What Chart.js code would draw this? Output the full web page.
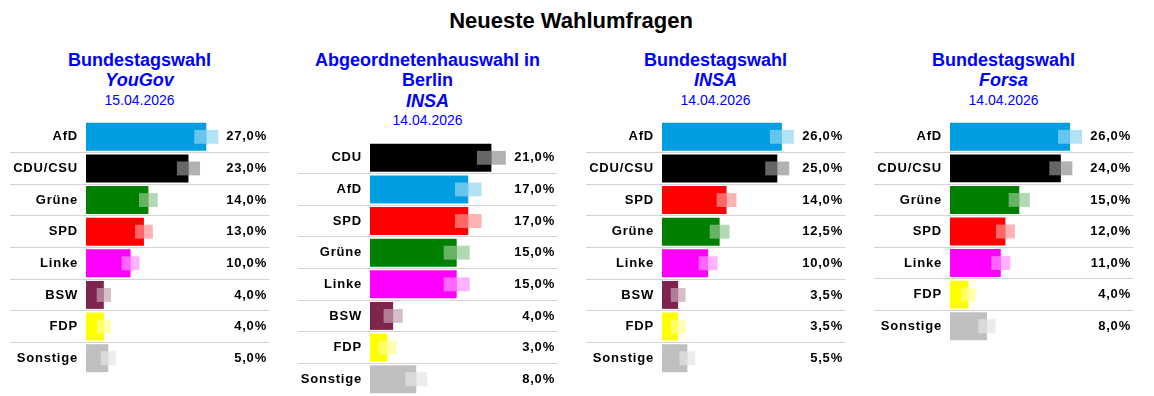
<!DOCTYPE html>
<html lang="de">
<head>
<meta charset="UTF-8">
<title>Neueste Wahlumfragen</title>
<script src="https://cdn.jsdelivr.net/npm/chart.js"></script>
<style>
  body { margin: 0; width: 1154px; height: 396px; position: relative; background: #fff; overflow: hidden;
         font-family: "Liberation Sans", Arial, sans-serif; }
  #titel { position: absolute; left: 0; top: 8px; width: 1142px; text-align: center;
           font-size: 22px; font-weight: bold; line-height: 26px; color: #000; }
  .kopf { position: absolute; top: 49.5px; width: 259px; text-align: center; color: #0000ff; }
  .kopf .wahl, .kopf .inst { font-size: 18px; font-weight: bold; line-height: 20.5px; }
  .kopf .inst { font-style: italic; }
  .kopf .datum { font-size: 14px; line-height: 19px; }
  canvas { position: absolute; }
</style>
</head>
<body>
<div id="titel">Neueste Wahlumfragen</div>

<div class="kopf" style="left:10px">
  <div class="wahl">Bundestagswahl</div>
  <div class="inst">YouGov</div>
  <div class="datum">15.04.2026</div>
</div>
<div class="kopf" style="left:298px">
  <div class="wahl">Abgeordnetenhauswahl in Berlin</div>
  <div class="inst">INSA</div>
  <div class="datum">14.04.2026</div>
</div>
<div class="kopf" style="left:586px">
  <div class="wahl">Bundestagswahl</div>
  <div class="inst">INSA</div>
  <div class="datum">14.04.2026</div>
</div>
<div class="kopf" style="left:874px">
  <div class="wahl">Bundestagswahl</div>
  <div class="inst">Forsa</div>
  <div class="datum">14.04.2026</div>
</div>

<canvas id="c1" width="259" height="253" style="left:10px;top:121px"></canvas>
<canvas id="c2" width="259" height="253" style="left:298px;top:142px"></canvas>
<canvas id="c3" width="259" height="253" style="left:586px;top:121px"></canvas>
<canvas id="c4" width="259" height="221" style="left:874px;top:121px"></canvas>

<script>
    // Bundestagswahl - YouGov
    const parteienYouGov = ['AfD', 'CDU/CSU', 'Grüne', 'SPD', 'Linke', 'BSW', 'FDP', 'Sonstige'];
    const werteYouGov = [27, 23, 14, 13, 10, 4, 4, 5];
    const fehlerYouGov = [2.7, 2.6, 2.1, 2.0, 2.0, 1.6, 1.6, 1.7];

    // Abgeordnetenhauswahl Berlin - INSA
    const parteienBerlin = ['CDU', 'AfD', 'SPD', 'Grüne', 'Linke', 'BSW', 'FDP', 'Sonstige'];
    const werteBerlin = [21, 17, 17, 15, 15, 4, 3, 8];
    const fehlerBerlin = [2.5, 2.3, 2.3, 2.25, 2.25, 1.65, 1.55, 1.9];

    // Bundestagswahl - INSA
    const parteienInsa = ['AfD', 'CDU/CSU', 'SPD', 'Grüne', 'Linke', 'BSW', 'FDP', 'Sonstige'];
    const werteInsa = [26, 25, 14, 12.5, 10, 3.5, 3.5, 5.5];
    const fehlerInsa = [2.6, 2.6, 2.15, 2.15, 2.05, 1.6, 1.6, 1.7];

    // Bundestagswahl - Forsa
    const parteienForsa = ['AfD', 'CDU/CSU', 'Grüne', 'SPD', 'Linke', 'FDP', 'Sonstige'];
    const werteForsa = [26, 24, 15, 12, 11, 4, 8];
    const fehlerForsa = [2.6, 2.5, 2.3, 2.05, 2.05, 1.6, 1.85];

    const farben = {
        'AfD': '#009ee0', 'CDU/CSU': '#000000', 'CDU': '#000000', 'SPD': '#ff0000',
        'Grüne': '#008000', 'Linke': '#ff00ff', 'BSW': '#7d254f', 'FDP': '#ffff00', 'Sonstige': '#c0c0c0'
    };

    const schrift = { family: '"Liberation Sans", Arial, sans-serif', size: 13, weight: 'bold' };
    const linie = (c) => (c.type === 'tick' && c.index > 0) ? '#d3d3d3' : 'rgba(0,0,0,0)';

    function hell(hex, a) {
        const n = parseInt(hex.slice(1), 16);
        return `rgba(${n >> 16}, ${(n >> 8) & 255}, ${n & 255}, ${a})`;
    }

    // etwas Zeichenabstand wie im Original
    const abstand = { id: 'abstand', beforeDraw(chart) { chart.ctx.letterSpacing = '0.8px'; } };

    // feste Achsenbreite, keine Extra-Abstaende oben/unten
    function festeBreite(b) {
        return (s) => { s.width = b; s.paddingTop = 0; s.paddingBottom = 0; };
    }

    function zeichne(id, parteien, werte, fehler, links, max) {
        const balkenFarben = parteien.map(p => farben[p]);
        const prozent = werte.map(v => v.toFixed(1).replace('.', ',') + '%');

        new Chart(document.getElementById(id), {
            type: 'bar',
            data: {
                labels: parteien,
                datasets: [{
                    // helle Markierung auf dem Balken
                    data: werte.map((v, i) => [v - fehler[i], v]),
                    backgroundColor: 'rgba(255,255,255,0.4)',
                    barPercentage: 0.44, categoryPercentage: 1, grouped: false, order: 0
                }, {
                    data: werte,
                    backgroundColor: balkenFarben,
                    barPercentage: 0.884, categoryPercentage: 1, grouped: false, order: 1
                }, {
                    // Fehlerbereich hinter dem Balken
                    data: werte.map((v, i) => [v - fehler[i], v + fehler[i]]),
                    backgroundColor: balkenFarben.map(f => hell(f, 0.3)),
                    barPercentage: 0.44, categoryPercentage: 1, grouped: false, order: 2
                }]
            },
            options: {
                indexAxis: 'y',
                responsive: false,
                animation: false,
                events: [],
                layout: { padding: { left: 0, right: 2, top: 0, bottom: 0 } },
                plugins: { legend: { display: false }, tooltip: { enabled: false } },
                scales: {
                    x: { display: false, min: 0, max: max },
                    y: {
                        position: 'left',
                        offset: true,
                        border: { display: false },
                        grid: { offset: true, color: linie, tickColor: linie, tickLength: links },
                        ticks: { font: schrift, color: '#000', padding: 8 - links },
                        afterFit: festeBreite(links)
                    },
                    y2: {
                        type: 'category',
                        position: 'right',
                        labels: prozent,
                        offset: true,
                        border: { display: false },
                        grid: { offset: true, drawOnChartArea: false, color: linie, tickColor: linie, tickLength: 44 },
                        ticks: { font: schrift, color: '#000', crossAlign: 'far' },
                        afterFit: festeBreite(42)
                    }
                }
            },
            plugins: [abstand]
        });
    }

    zeichne('c1', parteienYouGov, werteYouGov, fehlerYouGov, 76, 31.2);
    zeichne('c2', parteienBerlin, werteBerlin, fehlerBerlin, 72, 24.74);
    zeichne('c3', parteienInsa, werteInsa, fehlerInsa, 76, 30.15);
    zeichne('c4', parteienForsa, werteForsa, fehlerForsa, 76, 30.1);
</script>
</body>
</html>
